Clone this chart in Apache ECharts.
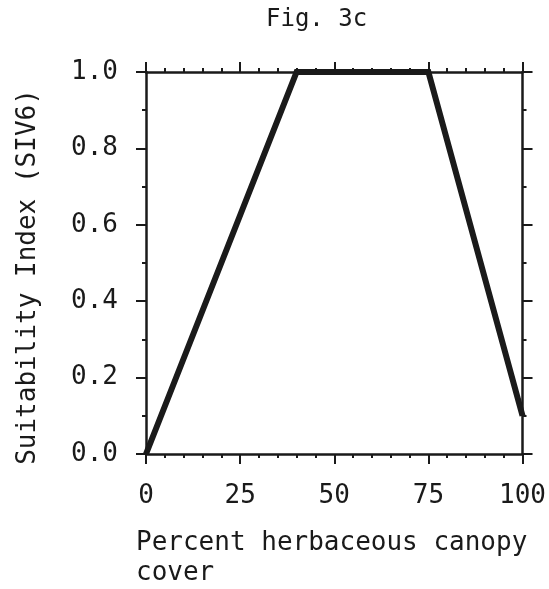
<!DOCTYPE html>
<html>
<head>
<meta charset="utf-8">
<script src="https://cdn.jsdelivr.net/npm/echarts@6/dist/echarts.min.js"></script>
<style>
  html, body { margin: 0; padding: 0; background: #fff; }
  #chart { width: 549px; height: 589px; }
</style>
</head>
<body>
<div id="chart"></div>
<script>
// 数据
var coverPct = [0, 40, 75, 100];
var suitability = [0.0, 1.0, 1.0, 0.1];
var xTicks = [0, 25, 50, 75, 100];
var yTicks = ['0.0', '0.2', '0.4', '0.6', '0.8', '1.0'];

var font = '"DejaVu Sans Mono", "Liberation Mono", monospace';
var ink = '#1a1a1a';

var myChart = echarts.init(document.getElementById('chart'));

var axisCommon = {
  type: 'value',
  axisLine: { show: true, onZero: false, lineStyle: { color: ink, width: 2.5 } },
  axisTick: { show: true, inside: false, length: 10, lineStyle: { color: ink, width: 2 } },
  minorTick: { show: true, splitNumber: 5, length: 4, lineStyle: { color: ink, width: 2 } },
  splitLine: { show: false },
  minorSplitLine: { show: false }
};

var points = coverPct.map(function (x, i) { return [x, suitability[i]]; });

var option = {
  backgroundColor: '#fff',
  animation: false,
  grid: { left: 146, right: 19, top: 72, bottom: 135 },
  xAxis: [
    Object.assign({}, axisCommon, {
      position: 'bottom', min: 0, max: 100, interval: 25,
      axisLabel: {
        color: ink, fontFamily: font, fontSize: 26, margin: 29,
        formatter: function (v) { return xTicks.indexOf(v) >= 0 ? String(v) : ''; }
      }
    }),
    Object.assign({}, axisCommon, {
      position: 'top', min: 0, max: 100, interval: 25,
      axisLabel: { show: false }
    })
  ],
  yAxis: [
    Object.assign({}, axisCommon, {
      position: 'left', min: 0, max: 1, interval: 0.2,
      minorTick: { show: true, splitNumber: 2, length: 4, lineStyle: { color: ink, width: 2 } },
      axisLabel: {
        color: ink, fontFamily: font, fontSize: 26, margin: 28,
        formatter: function (v) { return yTicks[Math.round(v * 5)]; }
      }
    }),
    Object.assign({}, axisCommon, {
      position: 'right', min: 0, max: 1, interval: 0.2,
      minorTick: { show: true, splitNumber: 2, length: 4, lineStyle: { color: ink, width: 2 } },
      axisLabel: { show: false }
    })
  ],
  graphic: [
    {
      type: 'text', left: 266, top: 8,
      style: { text: 'Fig. 3c', font: '24px ' + font, fill: ink }
    },
    {
      type: 'text', x: 28, y: 277, rotation: Math.PI / 2,
      style: {
        text: 'Suitability Index (SIV6)', font: '26px ' + font, fill: ink,
        textAlign: 'center', textVerticalAlign: 'middle'
      }
    },
    {
      type: 'text', x: 136, y: 528,
      style: {
        text: 'Percent herbaceous canopy\ncover', font: '26px ' + font, fill: ink,
        lineHeight: 30, textAlign: 'left', textVerticalAlign: 'top'
      }
    }
  ],
  series: [
    {
      type: 'line',
      data: points,
      symbol: 'none',
      lineStyle: { color: ink, width: 6, join: 'miter' },
      z: 5
    }
  ]
};

myChart.setOption(option);
</script>
</body>
</html>
